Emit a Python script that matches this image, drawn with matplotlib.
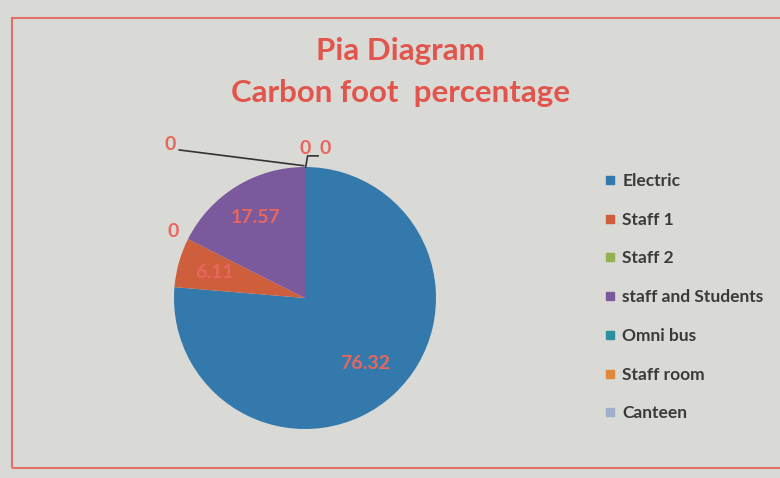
import matplotlib
matplotlib.use("Agg")
import matplotlib.pyplot as plt
import numpy as np
from matplotlib.patches import Rectangle
from matplotlib.lines import Line2D

categories = ["Electric", "Staff 1", "Staff 2", "staff and Students", "Omni bus", "Staff room", "Canteen"]
values = [76.32, 6.11, 0, 17.57, 0, 0, 0]
value_labels = ["76.32", "6.11", "0", "17.57", "0", "0", "0"]
colors = ["#3479ac", "#cf5f3c", "#95b253", "#7a5a9c", "#2f8ea0", "#e0873a", "#9fb0cc"]
title_lines = ["Pia Diagram", "Carbon foot  percentage"]

W, H = 780, 478
fig = plt.figure(figsize=(W / 100, H / 100), dpi=100)
fig.patch.set_facecolor("#d9d9d5")
plt.rcParams['font.family'] = ['Lato', 'DejaVu Sans']

# chart border
fig.add_artist(Rectangle((12 / W, 1 - 468 / H), (800 - 12) / W, (468 - 18) / H,
                         transform=fig.transFigure, fill=False, edgecolor="#e07068", lw=1.5))

# title
fig.text(400 / W, 1 - 51 / H, title_lines[0], ha="center", va="center",
         color="#e2554c", fontsize=22.5, fontweight="bold")
fig.text(401 / W, 1 - 93 / H, title_lines[1], ha="center", va="center",
         color="#e2554c", fontsize=22.5, fontweight="bold")

cx, cy, r = 305, 298, 131
ax = fig.add_axes([(cx - r) / W, (H - cy - r) / H, 2 * r / W, 2 * r / H])

wedges, _ = ax.pie(values, colors=colors, startangle=90, counterclock=False,
                   radius=1, wedgeprops=dict(linewidth=0))
ax.set_xlim(-1, 1)
ax.set_ylim(-1, 1)
ax.set_aspect("auto")
ax.axis("off")

lab_color = "#e8665e"
fs = 14
for w, lab, v in zip(wedges, value_labels, values):
    mid = np.deg2rad((w.theta1 + w.theta2) / 2)
    if v > 0:
        rr = 0.68 if v > 50 else 0.72
        ax.text(rr * np.cos(mid), rr * np.sin(mid), lab, ha="center", va="center",
                color=lab_color, fontsize=fs, fontweight="bold", clip_on=False)

# Staff 2 zero label (left side, at wedge boundary)
w = wedges[2]
a = np.deg2rad(w.theta1)
ax.text(1.13 * np.cos(a), 1.13 * np.sin(a), "0", ha="center", va="center",
        color=lab_color, fontsize=fs, fontweight="bold", clip_on=False)
# top zeros: Omni bus, Staff room, Canteen
top = np.deg2rad(wedges[4].theta1)
tx, ty = np.cos(top), np.sin(top)
ax.text(-1.03, 1.168, "0", ha="center", va="center", color=lab_color,
        fontsize=fs, fontweight="bold", clip_on=False)
ax.plot([-0.96, tx - 0.01], [1.13, ty + 0.01], color="#333333", lw=1.2, clip_on=False)
ax.text(tx, 1.145, "0", ha="center", va="center", color=lab_color,
        fontsize=fs, fontweight="bold", clip_on=False)
ax.text(tx + 0.153, 1.145, "0", ha="center", va="center", color=lab_color,
        fontsize=fs, fontweight="bold", clip_on=False)
ax.plot([tx + 0.005, tx + 0.02, tx + 0.1], [ty, 1.085, 1.085], color="#333333", lw=1.2, clip_on=False)

handles = [Line2D([0], [0], marker="s", linestyle="none", markersize=6,
                  markerfacecolor=c, markeredgecolor=c) for c in colors]
leg = fig.legend(handles, categories, loc="upper left",
                 bbox_to_anchor=(599 / W, 1 - 166 / H), frameon=False,
                 fontsize=12.5, labelspacing=1.31, handlelength=0.5, handletextpad=0.45,
                 borderaxespad=0)
for t in leg.get_texts():
    t.set_color("#3a3a3a")
    t.set_fontweight("bold")

fig.savefig("out.png", dpi=100, facecolor=fig.get_facecolor())
